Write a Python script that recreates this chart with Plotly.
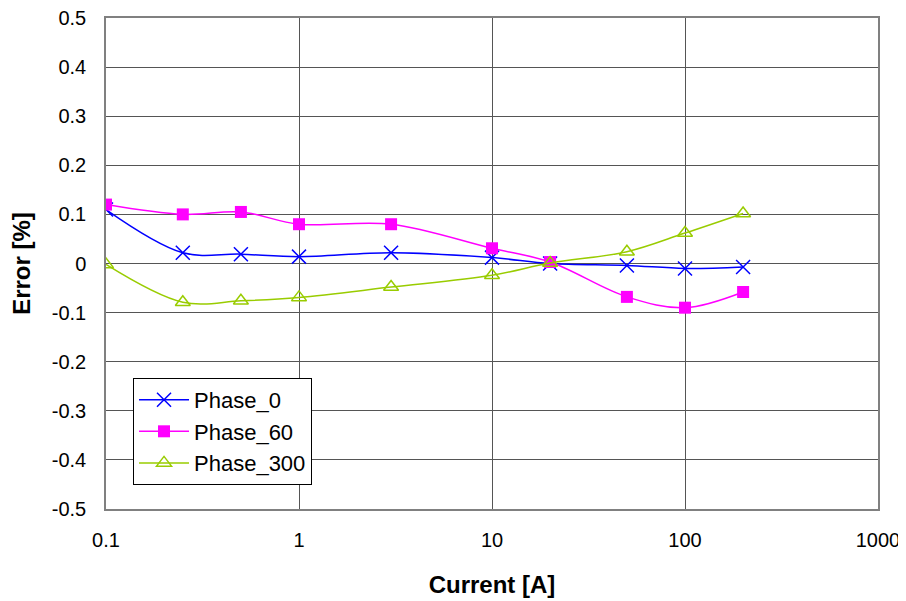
import plotly.graph_objects as go

current = [0.1, 0.25, 0.5, 1, 3, 10, 20, 50, 100, 200]
phase_0 = [0.11, 0.022, 0.019, 0.014, 0.022, 0.012, 0.0, -0.004, -0.01, -0.007]
phase_60 = [0.12, 0.10, 0.105, 0.08, 0.08, 0.031, 0.003, -0.068, -0.09, -0.058]
phase_300 = [-0.002, -0.079, -0.076, -0.069, -0.048, -0.024, 0.001, 0.024, 0.062, 0.102]

y_ticks = [0.5, 0.4, 0.3, 0.2, 0.1, 0, -0.1, -0.2, -0.3, -0.4, -0.5]
y_labels = ["0.5", "0.4", "0.3", "0.2", "0.1", "0", "-0.1", "-0.2", "-0.3", "-0.4", "-0.5"]
x_ticks = [0.1, 1, 10, 100, 1000]
x_labels = ["0.1", "1", "10", "100", "1000"]

fig = go.Figure()
fig.add_trace(go.Scatter(x=current, y=phase_0, name="Phase_0", mode="lines+markers", legendgroup="a",
                         line=dict(color="#0000FF", width=1.5, shape="spline"),
                         marker=dict(symbol="x-thin-open", size=14, color="#0000FF",
                                     line=dict(color="#0000FF", width=1.5))))
fig.add_trace(go.Scatter(x=current, y=phase_60, name="Phase_60", mode="lines+markers", legendgroup="b",
                         line=dict(color="#FF00FF", width=1.5, shape="spline"),
                         marker=dict(symbol="square", size=12, color="#FF00FF")))
fig.add_trace(go.Scatter(x=current, y=phase_300, name="Phase_300", mode="lines+markers", legendgroup="c",
                         line=dict(color="#99CC00", width=1.5, shape="spline"),
                         marker=dict(symbol="triangle-up-open", size=13, color="#99CC00",
                                     line=dict(color="#99CC00", width=1.5))))

fig.update_layout(
    width=898, height=593,
    margin=dict(l=98, r=28, t=10, b=92),
    plot_bgcolor="white", paper_bgcolor="white",
    font=dict(family="Liberation Sans, Arial", size=20, color="black"),
    showlegend=True,
    legend=dict(x=0.035, y=0.267, xanchor="left", yanchor="top",
                bgcolor="white", bordercolor="black", borderwidth=1,
                font=dict(size=22), tracegroupgap=0, itemwidth=50),
)
fig.update_xaxes(type="log", range=[-1, 3], tickvals=x_ticks, ticktext=x_labels, automargin=False,
                 showgrid=True, gridcolor="#555555", gridwidth=1,
                 showline=True, linecolor="#808080", linewidth=1.5, mirror=True,
                 ticks="", ticklabelstandoff=12, ticklabeloverflow="allow",
                 title=dict(text="<b>Current [A]</b>", font=dict(size=24), standoff=26),
                 zeroline=False)
fig.update_yaxes(range=[-0.5, 0.5], tickvals=y_ticks, ticktext=y_labels, automargin=False,
                 showgrid=True, gridcolor="#555555", gridwidth=1,
                 showline=True, linecolor="#808080", linewidth=1.5, mirror=True,
                 ticks="", ticklabelstandoff=14, ticklabeloverflow="allow",
                 title=dict(text="<b>Error [%]</b>", font=dict(size=24), standoff=18),
                 zeroline=False)

fig.write_html("out.html")
